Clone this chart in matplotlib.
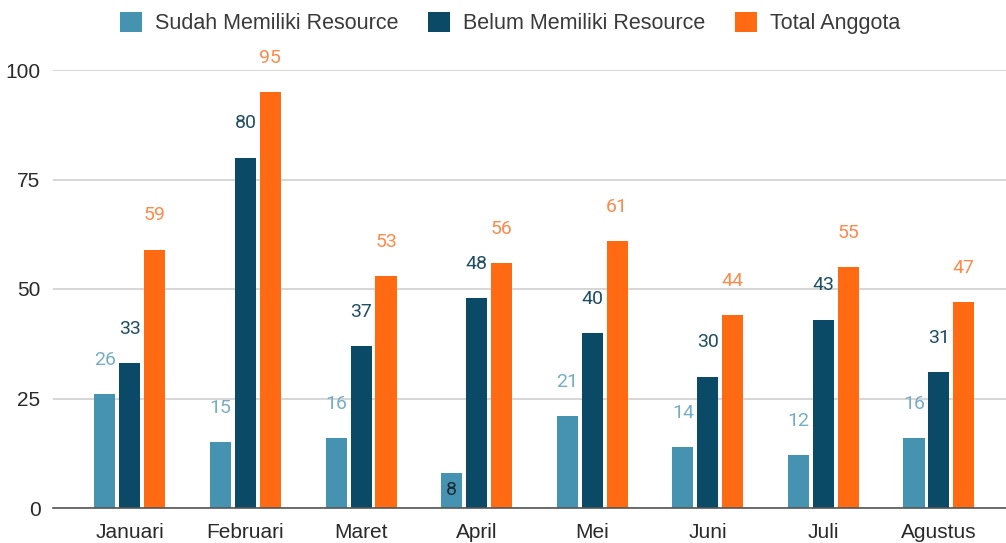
import numpy as np
import matplotlib.pyplot as plt

# Data
bulan = ["Januari", "Februari", "Maret", "April", "Mei", "Juni", "Juli", "Agustus"]
sudah = [26, 15, 16, 8, 21, 14, 12, 16]
belum = [33, 80, 37, 48, 40, 30, 43, 31]
total = [59, 95, 53, 56, 61, 44, 55, 47]
nama_seri = ["Sudah Memiliki Resource", "Belum Memiliki Resource", "Total Anggota"]

warna_bar = ["#4592b1", "#0b4a66", "#ff6a13"]
warna_label = ["#77adc4", "#1f4d62", "#ff8a4c"]

fig = plt.figure(figsize=(10.06, 5.43), dpi=100)
ax = fig.add_axes([53/1006, 1 - 508/543, 1 - 53/1006, (508 - 70)/543])

x = np.arange(len(bulan))
lebar = 0.182
jarak = 0.216

for i, (data, nama) in enumerate(zip([sudah, belum, total], nama_seri)):
    pos = x + (i - 1) * jarak
    ax.bar(pos, data, width=lebar, color=warna_bar[i], label=nama, zorder=3)
    for px, v in zip(pos, data):
        if v < 10:
            # label kecil ditaruh di dalam bar
            ax.text(px, v / 2, str(v), ha="center", va="center", fontsize=14,
                    color="#1b2b35", family="Roboto", zorder=4)
        else:
            ax.text(px, v + 7.8, str(v), ha="center", va="center", fontsize=14,
                    color=warna_label[i], family="Roboto", zorder=4, clip_on=False)

ax.set_xlim(-0.665, 7.58)
ax.set_ylim(0, 100)
ax.set_yticks([0, 25, 50, 75, 100])
ax.set_xticks(x)
ax.set_xticklabels(bulan, family="Liberation Sans", fontsize=15, color="#2a2a2a")
for t in ax.get_yticklabels():
    t.set_family("Liberation Sans")
    t.set_fontsize(15)
    t.set_color("#2a2a2a")
ax.tick_params(length=0)
ax.tick_params(axis="x", pad=11)
ax.tick_params(axis="y", pad=9)
ax.grid(axis="y", color="#d0d0d0", linewidth=1.2, zorder=0)
for s in ["top", "right", "left"]:
    ax.spines[s].set_visible(False)
ax.spines["bottom"].set_color("#555555")
ax.spines["bottom"].set_linewidth(1.2)
ax.spines["bottom"].set_zorder(5)

leg = fig.legend(loc="center", bbox_to_anchor=(510/1006, 1 - 23/543), ncol=3, frameon=False,
                 prop={"family": "Liberation Sans", "size": 15.5}, handlelength=1.05,
                 handleheight=1.05, handletextpad=0.6, columnspacing=1.35)
for t in leg.get_texts():
    t.set_color("#3a3a3a")

fig.savefig("out.png", dpi=100)
